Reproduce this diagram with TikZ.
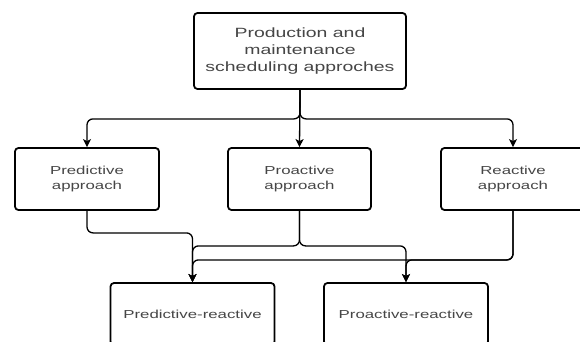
\documentclass[tikz,border=0pt]{standalone}
\usepackage{fontspec}
\setmainfont[FakeStretch=1.45]{Liberation Sans}
\usetikzlibrary{arrows.meta}
\definecolor{txt}{RGB}{70,70,70}
\tikzset{
  box/.style={draw=black, line width=1.8pt, rounded corners=3.5pt, inner sep=0pt, align=center, text=txt},
  midbox/.style={box, minimum width=144pt, minimum height=62pt, font=\fontsize{11.6}{15.5}\selectfont},
  lowbox/.style={box, minimum width=164pt, minimum height=62pt, font=\fontsize{11.6}{15.5}\selectfont},
  conn/.style={draw=black, line width=1.3pt, rounded corners=6pt},
  arr/.style={conn, -{Stealth[length=8pt,width=8pt,inset=2pt]}}
}
\begin{document}
\begin{tikzpicture}[x=1pt,y=-1pt]
\useasboundingbox (0,0) rectangle (580,342);
\clip (0,0) rectangle (580,342);
\fill[white] (0,0) rectangle (580,342);
\node[box, minimum width=212pt, minimum height=76pt, font=\fontsize{13.4}{17}\selectfont] (top) at (300,51) {Production and\\maintenance\\scheduling approches};
\node[midbox] (pred) at (87,179) {Predictive\\approach};
\node[midbox, minimum width=143pt] (proa) at (299.5,179) {Proactive\\approach};
\node[midbox] (reac) at (513,179) {Reactive\\approach};
\node[lowbox] (pr) at (192.5,314) {Predictive-reactive};
\node[lowbox] (por) at (406,314) {Proactive-reactive};
% top to middle
\draw[arr] (top.south) -- ++(0,29) -| (pred.north);
\draw[arr] (top.south) -- (proa.north);
\draw[arr] (top.south) -- ++(0,29) -| (reac.north);
% middle to bottom
\draw[arr] (pred.south) -- ++(0,22) -| (pr.north);
\draw[arr] (proa.south) -- ++(0,35) -| (pr.north);
\draw[arr] (proa.south) -- ++(0,35) -| (por.north);
\draw[arr] (reac.south) -- ++(0,49) -| (pr.north);
\draw[arr] (reac.south) -- ++(0,49) -| (por.north);
\end{tikzpicture}
\end{document}
